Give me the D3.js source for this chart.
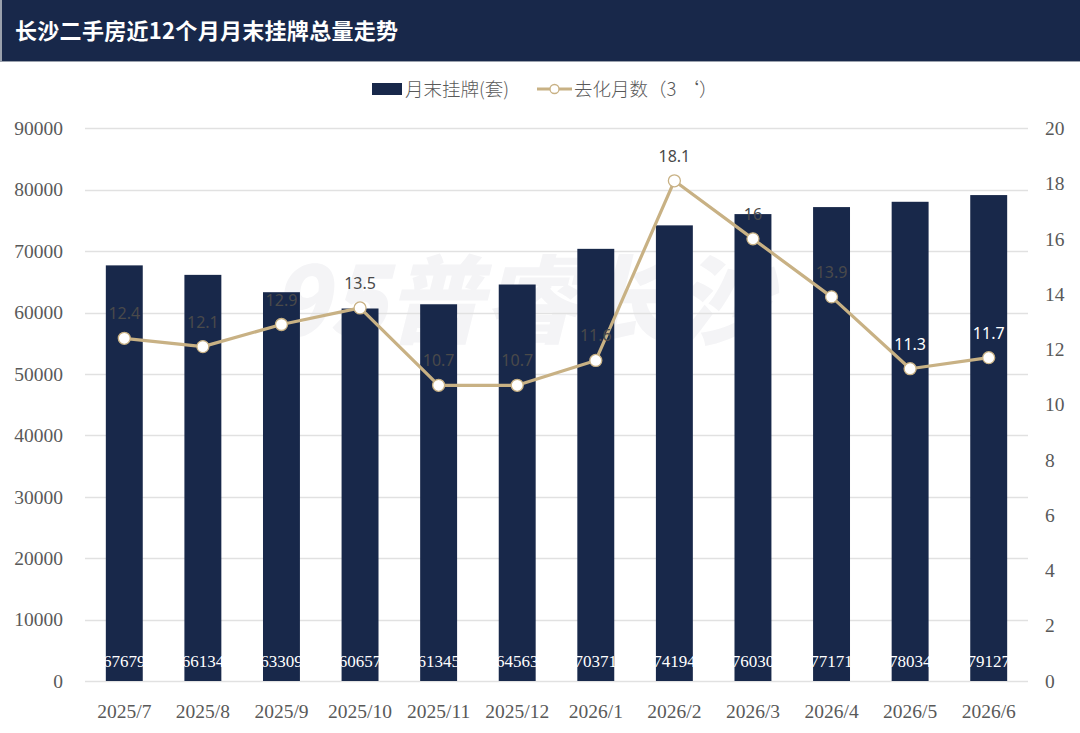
<!DOCTYPE html>
<html><head><meta charset="utf-8">
<script src="https://cdn.jsdelivr.net/npm/d3@7"></script>
<style>
html,body{margin:0;padding:0;background:#fff;}
svg{display:block;}
</style></head>
<body>
<svg id="c" width="1080" height="733"></svg>
<script>
const title = "长沙二手房近12个月月末挂牌总量走势";
const categories = ["2025/7","2025/8","2025/9","2025/10","2025/11","2025/12","2026/1","2026/2","2026/3","2026/4","2026/5","2026/6"];
const listings = [67679,66134,63309,60657,61345,64563,70371,74194,76030,77171,78034,79127];
const months = [12.4,12.1,12.9,13.5,10.7,10.7,11.6,18.1,16,13.9,11.3,11.7];
const leftTicks = [0,10000,20000,30000,40000,50000,60000,70000,80000,90000];
const rightTicks = [0,2,4,6,8,10,12,14,16,18,20];
const legendLabels = ["月末挂牌(套)","去化月数（3 ‘）"];
const whiteLabelIdx = [10,11];

const svg = d3.select("#c");
const W = 1080, H = 733;
const navy = "#18284a", tan = "#c8b184", gray = "#595959";
const serif = "'Liberation Serif','DejaVu Serif',serif";
const sans = "'Noto Sans','Noto Sans CJK SC',sans-serif";
const cjk = "'Noto Sans CJK SC','Noto Sans',sans-serif";

// header
svg.append("rect").attr("x",0).attr("y",0).attr("width",W).attr("height",61).attr("fill",navy);
svg.append("line").attr("x1",0).attr("x2",W).attr("y1",61.5).attr("y2",61.5).attr("stroke","#9aa1ad").attr("stroke-width",1);
svg.append("line").attr("x1",1).attr("x2",1).attr("y1",0).attr("y2",62).attr("stroke","#9aa1ad").attr("stroke-width",2);
svg.append("text").attr("x",15).attr("y",39).attr("fill","#fff")
  .attr("font-family",cjk).attr("font-weight",700).attr("font-size",22).attr("letter-spacing",0.3).text(title);

const m = {l:85, r:1028, t:128.3, b:681};
const x = d3.scaleBand().domain(categories).range([m.l,m.r]).paddingInner(0.53).paddingOuter(0.265);
const y = d3.scaleLinear().domain([0,90000]).range([m.b,m.t]);
const y2 = d3.scaleLinear().domain([0,20]).range([m.b,m.t]);

// watermark
svg.append("text").attr("x",520).attr("y",336).attr("text-anchor","middle")
  .attr("fill","#f4f4f6").attr("font-family",cjk).attr("font-weight",900)
  .attr("font-size",96).attr("font-style","italic").text("95普睿长沙");

// gridlines
svg.append("g").selectAll("line").data(leftTicks).join("line")
  .attr("x1",m.l).attr("x2",m.r).attr("y1",d=>Math.round(y(d))+0.5).attr("y2",d=>Math.round(y(d))+0.5)
  .attr("stroke","#e1e1e1").attr("stroke-width",1.3);

// left axis
const ga = svg.append("g").attr("transform",`translate(63,0)`)
  .call(d3.axisLeft(y).tickValues(leftTicks).tickSize(0).tickPadding(0).tickFormat(d3.format("d")));
ga.select(".domain").remove();
ga.selectAll("text").attr("font-family",serif).attr("font-size",19.5).attr("fill",gray);

// right axis
const gr = svg.append("g").attr("transform",`translate(1045,0)`)
  .call(d3.axisRight(y2).tickValues(rightTicks).tickSize(0).tickPadding(0));
gr.select(".domain").remove();
gr.selectAll("text").attr("font-family",serif).attr("font-size",19.5).attr("fill",gray);

// bottom axis
const gb = svg.append("g").attr("transform",`translate(0,${m.b})`)
  .call(d3.axisBottom(x).tickSize(0).tickPadding(23));
gb.select(".domain").remove();
gb.selectAll("text").attr("font-family",serif).attr("font-size",19.5).attr("fill",gray);

// bars
svg.append("g").selectAll("rect").data(listings).join("rect")
  .attr("x",(d,i)=>x(categories[i])).attr("width",x.bandwidth())
  .attr("y",d=>y(d)).attr("height",d=>m.b-y(d)).attr("fill",navy);

// bar labels (white text; the parts outside the bar vanish on the white background)
svg.append("g").selectAll("text").data(listings).join("text")
  .attr("x",(d,i)=>x(categories[i])+x.bandwidth()/2).attr("y",667)
  .attr("text-anchor","middle").attr("fill","#fff")
  .attr("font-family",serif).attr("font-size",17).text(d=>d);

// line
const cx = i => x(categories[i])+x.bandwidth()/2;
svg.append("path").datum(months)
  .attr("d",d3.line().x((d,i)=>cx(i)).y(d=>y2(d)))
  .attr("fill","none").attr("stroke",tan).attr("stroke-width",3.2).attr("stroke-linejoin","round");
svg.append("g").selectAll("circle").data(months).join("circle")
  .attr("cx",(d,i)=>cx(i)).attr("cy",d=>y2(d)).attr("r",6)
  .attr("fill","#fff").attr("stroke",tan).attr("stroke-width",1.3);

// line labels
svg.append("g").selectAll("text").data(months).join("text")
  .attr("x",(d,i)=>cx(i)).attr("y",d=>y2(d)-19)
  .attr("text-anchor","middle")
  .attr("fill",(d,i)=>whiteLabelIdx.includes(i)?"#ffffff":"#4a4a4a")
  .attr("font-family",sans).attr("font-size",16).text(d=>d);

// legend
const lg = svg.append("g");
lg.append("rect").attr("x",372).attr("y",83).attr("width",30).attr("height",12).attr("fill",navy);
lg.append("text").attr("x",405).attr("y",96).attr("fill",gray).attr("font-family",cjk).attr("font-weight",300)
  .attr("font-size",18.5).text(legendLabels[0]);
lg.append("line").attr("x1",537).attr("x2",572).attr("y1",89).attr("y2",89).attr("stroke",tan).attr("stroke-width",3.2);
lg.append("circle").attr("cx",554.5).attr("cy",89).attr("r",4.5).attr("fill","#fff").attr("stroke",tan).attr("stroke-width",1.3);
lg.append("text").attr("x",574).attr("y",96).attr("fill",gray).attr("font-family",cjk).attr("font-weight",300)
  .attr("font-size",18.5).text(legendLabels[1]);
</script>
</body></html>
